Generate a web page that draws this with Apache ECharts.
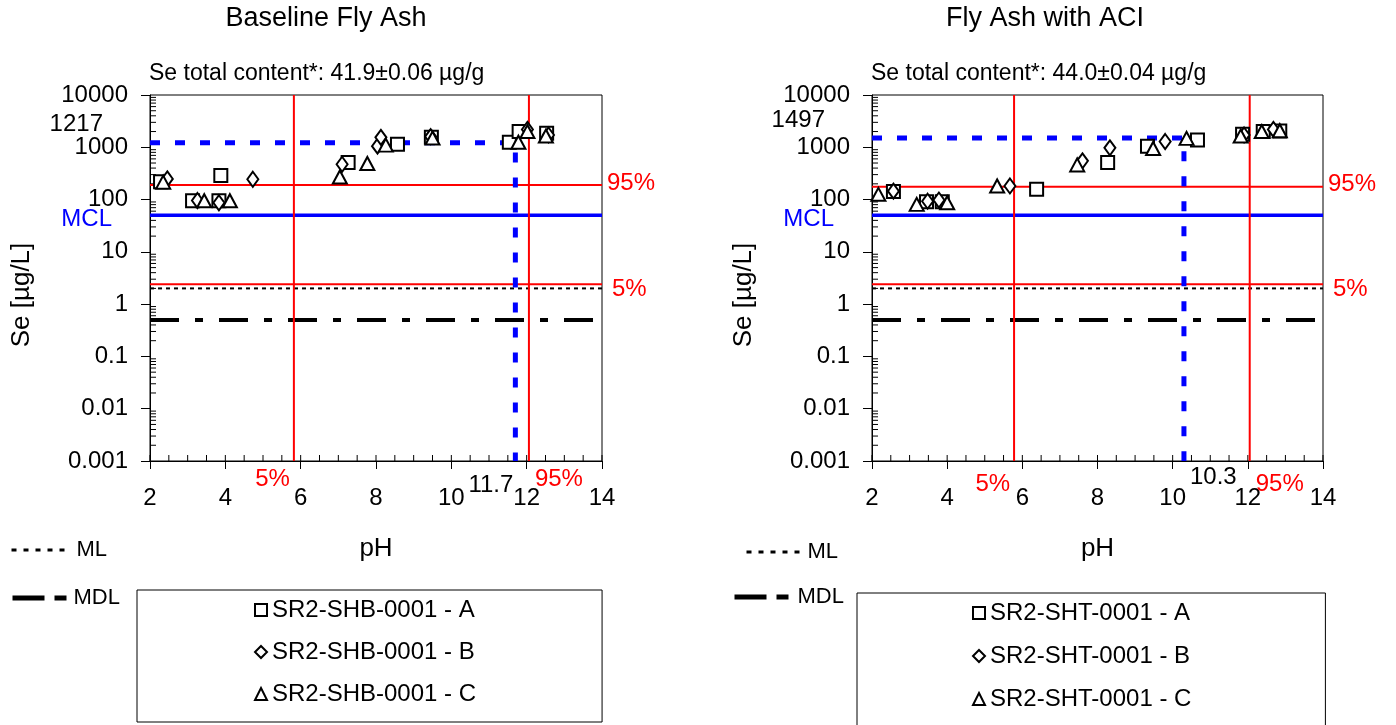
<!DOCTYPE html>
<html><head><meta charset="utf-8">
<script src="https://cdn.jsdelivr.net/npm/echarts@6/dist/echarts.min.js"></script>
<style>html,body{margin:0;padding:0;background:#fff}#c{width:1396px;height:725px}</style>
</head><body><div id="c"></div>
<script>
// ---------- data ----------
const titles = ['Baseline Fly Ash', 'Fly Ash with ACI'];
const subtitles = ['Se total content*: 41.9\u00b10.06 \u00b5g/g', 'Se total content*: 44.0\u00b10.04 \u00b5g/g'];
const namesLeft = ['SR2-SHB-0001 - A', 'SR2-SHB-0001 - B', 'SR2-SHB-0001 - C'];
const namesRight = ['SR2-SHT-0001 - A', 'SR2-SHT-0001 - B', 'SR2-SHT-0001 - C'];
const xTickLabels = [2, 4, 6, 8, 10, 12, 14];
const yTickLabels = [0.001, 0.01, 0.1, 1, 10, 100, 1000, 10000];

const leftA = [[2.28,220],[3.13,95],[3.88,290],[3.83,95],[7.26,510],[8.57,1140],[9.47,1550],[11.54,1250],[11.8,2000],[12.53,1860]];
const leftB = [[2.46,248],[3.26,96],[3.83,87],[4.73,245],[7.1,473],[8.04,1050],[8.13,1550],[9.45,1600],[12.02,2200],[12.58,1720]];
const leftC = [[2.35,215],[3.44,95],[4.12,95],[7.04,270],[7.77,490],[8.26,1100],[9.5,1500],[11.78,1250],[12.02,2000],[12.51,1640]];
const rightA = [[2.57,142],[3.45,91],[3.87,91],[6.38,158],[8.27,510],[9.33,1050],[10.66,1380],[11.86,1780],[12.41,2000],[12.85,2050]];
const rightB = [[2.57,145],[3.48,93],[3.78,98],[5.67,182],[7.6,550],[8.33,975],[9.8,1290],[11.9,1720],[12.68,2200]];
const rightC = [[2.17,126],[3.19,81],[4.0,87],[5.33,182],[7.46,460],[9.48,950],[10.37,1480],[11.81,1640],[12.37,2000],[12.85,2070]];

const phPct5 = [5.82, 5.78];     // 5th percentile pH
const phPct95 = [12.06, 12.05];  // 95th percentile pH
const sePct5 = [2.4, 2.4];       // 5th percentile Se
const sePct95 = [190, 175];      // 95th percentile Se
const crossPh = [11.7, 10.3];
const crossSe = [1217, 1497];
const MCL = 50, ML = 2, MDL = 0.5;
const X_MIN = 2, X_MAX = 14, Y_MIN = 0.001, Y_MAX = 10000;

// ---------- build ----------
const FONT = '"Liberation Sans", Arial, sans-serif';
const chart = echarts.init(document.getElementById('c'));

const grids = [
  { left: 150, top: 95, width: 452, height: 366, show: true, borderColor: '#000', borderWidth: 1 },
  { left: 872, top: 95, width: 451, height: 366, show: true, borderColor: '#000', borderWidth: 1 }
];

function xAxis(i) {
  return {
    type: 'value', gridIndex: i, min: X_MIN, max: X_MAX, interval: 2,
    axisLine: { lineStyle: { color: '#000', width: 1 } },
    axisTick: { length: 8, lineStyle: { color: '#000' } },
    splitLine: { show: false },
    axisLabel: { color: '#000', fontSize: 24, fontFamily: FONT, margin: 25 },
    name: 'pH', nameLocation: 'middle', nameGap: 75,
    nameTextStyle: { color: '#000', fontSize: 26, fontFamily: FONT }
  };
}
function yAxis(i) {
  return {
    type: 'log', logBase: 10, gridIndex: i, min: Y_MIN, max: Y_MAX,
    axisLine: { show: true, lineStyle: { color: '#000', width: 1 } },
    axisTick: { show: true, length: 9, lineStyle: { color: '#000' } },
    splitLine: { show: false },
    axisLabel: { color: '#000', fontSize: 24, fontFamily: FONT, margin: 22,
      formatter: v => String(+(+v).toPrecision(6)) }
  };
}

// minor tick values (structural, not data)
const yMinor = [];
for (let e = -3; e < 4; e++) for (let k = 2; k <= 9; k++) yMinor.push(+(k * Math.pow(10, e)).toPrecision(6));
const xMinor = [];
for (let p = X_MIN; p <= X_MAX + 1e-9; p += 0.5) xMinor.push(p);

function tickSeries(i) {
  return [{
    type: 'custom', xAxisIndex: i, yAxisIndex: i, silent: true, z: 1,
    data: yMinor.map(v => [X_MIN, v]),
    renderItem: (params, api) => {
      const p = api.coord([api.value(0), api.value(1)]);
      return { type: 'line', shape: { x1: p[0], y1: p[1], x2: p[0] + 6, y2: p[1] }, style: { stroke: '#000', lineWidth: 1 } };
    }
  }, {
    type: 'custom', xAxisIndex: i, yAxisIndex: i, silent: true, z: 1,
    data: xMinor.map(v => [v, Y_MIN]),
    renderItem: (params, api) => {
      const p = api.coord([api.value(0), api.value(1)]);
      return { type: 'line', shape: { x1: p[0], y1: p[1], x2: p[0], y2: p[1] - 6 }, style: { stroke: '#000', lineWidth: 1 } };
    }
  }];
}

function lineS(i, name, data, color, width, type, z) {
  return { type: 'line', name, xAxisIndex: i, yAxisIndex: i, data, symbol: 'none', silent: true, z: z || 2,
    lineStyle: { color, width, type }, itemStyle: { color }, animation: false };
}

function scatterS(i, name, data, symbol, size) {
  return { type: 'scatter', name, xAxisIndex: i, yAxisIndex: i, data, symbol, symbolSize: size, z: 5,
    itemStyle: { color: '#fff', borderColor: '#000', borderWidth: 2, opacity: 1 } };
}

const series = [];
const scatterData = [[leftA, leftB, leftC], [rightA, rightB, rightC]];
const scatterNames = [namesLeft, namesRight];
for (let i = 0; i < 2; i++) {
  series.push(...tickSeries(i));
  series.push(lineS(i, 'ML', [[X_MIN, ML], [X_MAX, ML]], '#000', 2, [4, 4], 2));
  series.push(lineS(i, 'MDL', [[X_MIN, MDL], [X_MAX, MDL]], '#000', 4, [29, 16, 8, 16], 2));
  series.push(lineS(i, 'MCL' + i, [[X_MIN, MCL], [X_MAX, MCL]], '#0000ff', 3.5, 'solid', 3));
  series.push(lineS(i, 'p95y' + i, [[X_MIN, sePct95[i]], [X_MAX, sePct95[i]]], '#ff0000', 2, 'solid', 3));
  series.push(lineS(i, 'p5y' + i, [[X_MIN, sePct5[i]], [X_MAX, sePct5[i]]], '#ff0000', 2, 'solid', 3));
  series.push(lineS(i, 'p5x' + i, [[phPct5[i], Y_MIN], [phPct5[i], Y_MAX]], '#ff0000', 2, 'solid', 3));
  series.push(lineS(i, 'p95x' + i, [[phPct95[i], Y_MIN], [phPct95[i], Y_MAX]], '#ff0000', 2, 'solid', 3));
  series.push(lineS(i, 'cross' + i, [[X_MIN, crossSe[i]], [crossPh[i], crossSe[i]], [crossPh[i], Y_MIN]], '#0000ff', 5, [10, 15], 4));
  const sym = ['rect', 'diamond', 'triangle'];
  const sz = [13, [11, 15], [14, 13]];
  for (let k = 0; k < 3; k++) series.push(scatterS(i, scatterNames[i][k], scatterData[i][k], sym[k], sz[k]));
}

const legendText = { color: '#000', fontSize: 24, fontFamily: FONT };
const lineLegendText = { color: '#000', fontSize: 22, fontFamily: FONT };
const hideSym = { opacity: 0, color: 'transparent', borderWidth: 0 };
const mlLine = { color: '#000', width: 3, type: [5, 7] };
const mdlLine = { color: '#000', width: 5, type: [32, 10, 12, 10] };
function lineLegend(name, left, top, w, ls) {
  return { data: [name], left, top, itemWidth: w, itemHeight: 14, itemStyle: hideSym, lineStyle: ls,
    textStyle: lineLegendText, selectedMode: false, padding: 0 };
}
const option = {
  animation: false,
  backgroundColor: '#fff',
  grid: grids,
  xAxis: [xAxis(0), xAxis(1)],
  yAxis: [yAxis(0), yAxis(1)],
  legend: [
    { data: namesLeft, orient: 'vertical', left: 137, top: 590, height: 200, itemGap: 18, itemWidth: 12, itemHeight: 12,
      padding: [8, 126, 16, 117], borderColor: '#000', borderWidth: 1, textStyle: legendText, selectedMode: false },
    { data: namesRight, orient: 'vertical', left: 857, top: 593, height: 200, itemGap: 19, itemWidth: 12, itemHeight: 12,
      padding: [8, 134, 40, 115], borderColor: '#000', borderWidth: 1, textStyle: legendText, selectedMode: false },
    lineLegend('ML', 10, 539, 60, mlLine),
    lineLegend('MDL', 10, 587, 56, mdlLine),
    lineLegend('ML', 745, 541, 56, mlLine),
    lineLegend('MDL', 732, 586, 58, mdlLine)
  ],
  series
};
chart.setOption(option);

// ---------- annotations positioned through the axes ----------
function px(i, x, y) { return chart.convertToPixel({ gridIndex: i }, [x, y]); }
function txt(x, y, text, opts) {
  return { type: 'text', x, y, z: 10, style: Object.assign({ text, fill: '#000', fontSize: 24, fontFamily: FONT,
    align: 'left', verticalAlign: 'middle' }, opts || {}) };
}
const g = [];
const titleX = [326, 1045];
for (let i = 0; i < 2; i++) {
  const gl = grids[i];
  g.push(txt(titleX[i], 19, titles[i], { align: 'center', fontSize: 27 }));
  g.push(txt(gl.left - 1, 74, subtitles[i], { fontSize: 23 }));
  g.push({ type: 'text', x: gl.left - 128, y: 295, rotation: Math.PI / 2, z: 10,
    style: { text: 'Se [\u00b5g/L]', fill: '#000', fontSize: 26, fontFamily: FONT, align: 'center', verticalAlign: 'middle' } });
  const right = gl.left + gl.width;
  const yc = px(i, X_MIN, crossSe[i])[1];
  g.push(txt(gl.left - 47, yc - 18, String(crossSe[i]), { align: 'right' }));
  const ym = px(i, X_MIN, MCL)[1];
  g.push(txt(gl.left - 38, ym + 4, 'MCL', { align: 'right', fill: '#0000ff' }));
  const y95 = px(i, X_MIN, sePct95[i])[1];
  const y5 = px(i, X_MIN, sePct5[i])[1];
  g.push(txt(right + 5, y95 - 2, '95%', { fill: '#ff0000' }));
  g.push(txt(right + 10, y5 + 5, '5%', { fill: '#ff0000' }));
  const bottom = gl.top + gl.height;
  const x5 = px(i, phPct5[i], Y_MIN)[0];
  const x95 = px(i, phPct95[i], Y_MIN)[0];
  const xc = px(i, crossPh[i], Y_MIN)[0];
  g.push(txt(x5 - 4, bottom + (i ? 23 : 18), '5%', { align: 'right', fill: '#ff0000' }));
  g.push(txt(x95 + 6, bottom + (i ? 23 : 18), '95%', { fill: '#ff0000' }));
  if (i === 0) g.push(txt(xc - 2, bottom + 24, String(crossPh[i]), { align: 'right' }));
  else g.push(txt(xc + 6, bottom + 16, String(crossPh[i]), { align: 'left' }));
}
chart.setOption({ graphic: g });
</script>
</body></html>
